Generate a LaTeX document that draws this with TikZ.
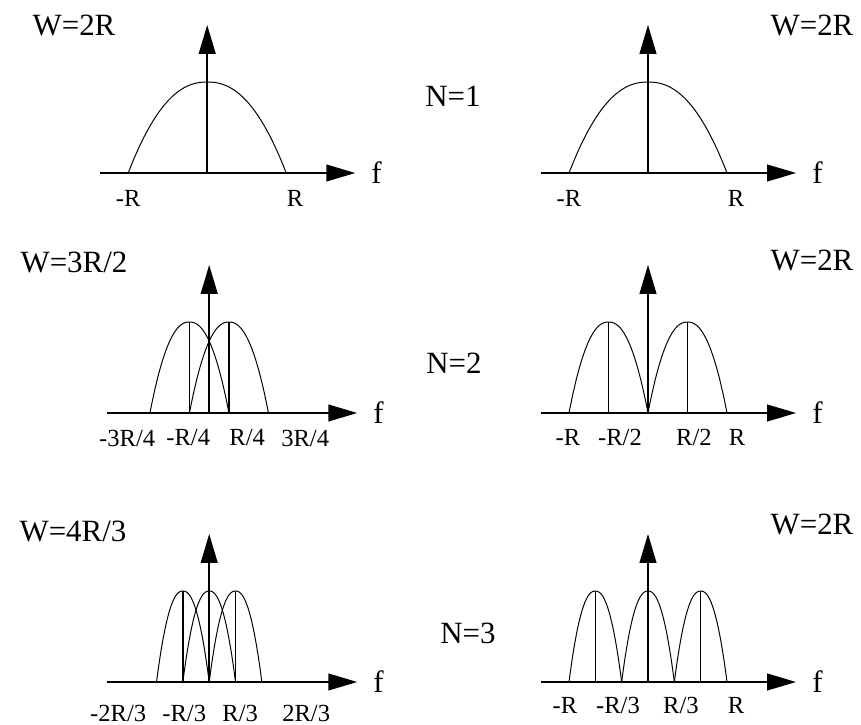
\documentclass[tikz,border=0pt]{standalone}
\usepackage{fontspec}
\setmainfont{Liberation Serif}
\usetikzlibrary{arrows.meta}

% lobe geometry (cm)
\newcommand{\Rw}{1.975}
\newcommand{\Hh}{2.275}
% one spectral lobe: centre and half width in units of R
\newcommand{\drawlobe}[2]{\draw[lobe] plot[domain=-1:1, samples=41, smooth]
  ({((#1)+(#2)*(\x))*\Rw}, {\Hh*(1-(abs(\x)+0.00001)^2.25)});}
% line from axis to the top of a lobe
\newcommand{\peakline}[1]{\draw[stem] ({(#1)*\Rw},0) -- ({(#1)*\Rw},\Hh);}
% frequency axes of one panel
\newcommand{\axes}[2]{%
  \coordinate (#1a) at (#2,0); \coordinate (#1b) at (3.7,0);
  \coordinate (#1o) at (0,0);  \coordinate (#1t) at (0,3.7);
  \draw[axis] (#1a) -- (#1b);
  \draw[axis] (#1o) -- (#1t);
  \node[title, anchor=west, inner sep=0pt] (#1f) at (4.1,0) {f};}

\begin{document}
\begin{tikzpicture}[
  axis/.style={line width=1pt, -{Triangle[length=0.72cm, width=0.42cm]}},
  lobe/.style={line width=0.7pt},
  stem/.style={line width=1pt},
  title/.style={font=\fontsize{22}{26}\selectfont},
  tick/.style={font=\fontsize{17.5}{20}\selectfont}
]
  \useasboundingbox (0,0) rectangle (21.525,18.125);

  % Titles
  \node[title] (w1) at (1.85,17.475) {W=2R};
  \node[title] (w2) at (20.3,17.475) {W=2R};
  \node[title] (n1) at (11.325,15.725) {N=1};
  \node[title] (w3) at (1.85,11.55) {W=3R/2};
  \node[title] (w4) at (20.3,11.6) {W=2R};
  \node[title] (n2) at (11.35,9.05) {N=2};
  \node[title] (w5) at (1.825,4.85) {W=4R/3};
  \node[title] (w6) at (20.3,5.025) {W=2R};
  \node[title] (n3) at (11.7,2.3) {N=3};

  % N=1, left
  \begin{scope}[shift={(5.18,13.8)}]
    \axes{p}{-2.675}
    \drawlobe{0}{1}
    \node[tick] (pl1) at (-1.975,-0.625) {-R};
    \node[tick] (pl2) at (2.2,-0.625) {R};
  \end{scope}

  % N=1, right
  \begin{scope}[shift={(16.2,13.8)}]
    \axes{q}{-2.675}
    \drawlobe{0}{1}
    \node[tick] (ql1) at (-1.975,-0.625) {-R};
    \node[tick] (ql2) at (2.2,-0.625) {R};
  \end{scope}

  % N=2, left
  \begin{scope}[shift={(5.23,7.8)}]
    \axes{r}{-2.55}
    \drawlobe{-0.25}{0.5}
    \drawlobe{0.25}{0.5}
    \peakline{-0.25}
    \peakline{0.25}
    \node[tick] (rl1) at (-2.05,-0.625) {-3R/4};
    \node[tick] (rl2) at (-0.525,-0.625) {-R/4};
    \node[tick] (rl3) at (0.95,-0.625) {R/4};
    \node[tick] (rl4) at (2.4,-0.625) {3R/4};
  \end{scope}

  % N=2, right
  \begin{scope}[shift={(16.2,7.8)}]
    \axes{s}{-2.675}
    \drawlobe{-0.5}{0.5}
    \drawlobe{0.5}{0.5}
    \peakline{-0.5}
    \peakline{0.5}
    \node[tick] (sl1) at (-2.0,-0.6) {-R};
    \node[tick] (sl2) at (-0.7,-0.6) {-R/2};
    \node[tick] (sl3) at (1.15,-0.6) {R/2};
    \node[tick] (sl4) at (2.225,-0.6) {R};
  \end{scope}

  % N=3, left
  \begin{scope}[shift={(5.23,1.075)}]
    \axes{u}{-2.55}
    \drawlobe{-0.3333}{0.3333}
    \drawlobe{0}{0.3333}
    \drawlobe{0.3333}{0.3333}
    \peakline{-0.3333}
    \peakline{0.3333}
    \node[tick] (ul1) at (-2.275,-0.775) {-2R/3};
    \node[tick] (ul2) at (-0.625,-0.775) {-R/3};
    \node[tick] (ul3) at (0.775,-0.775) {R/3};
    \node[tick] (ul4) at (2.425,-0.775) {2R/3};
  \end{scope}

  % N=3, right
  \begin{scope}[shift={(16.2,1.075)}]
    \axes{v}{-2.675}
    \drawlobe{-0.6667}{0.3333}
    \drawlobe{0}{0.3333}
    \drawlobe{0.6667}{0.3333}
    \peakline{-0.6667}
    \peakline{0.6667}
    \node[tick] (vl1) at (-2.075,-0.575) {-R};
    \node[tick] (vl2) at (-0.75,-0.575) {-R/3};
    \node[tick] (vl3) at (0.825,-0.575) {R/3};
    \node[tick] (vl4) at (2.2,-0.575) {R};
  \end{scope}
\end{tikzpicture}
\end{document}
